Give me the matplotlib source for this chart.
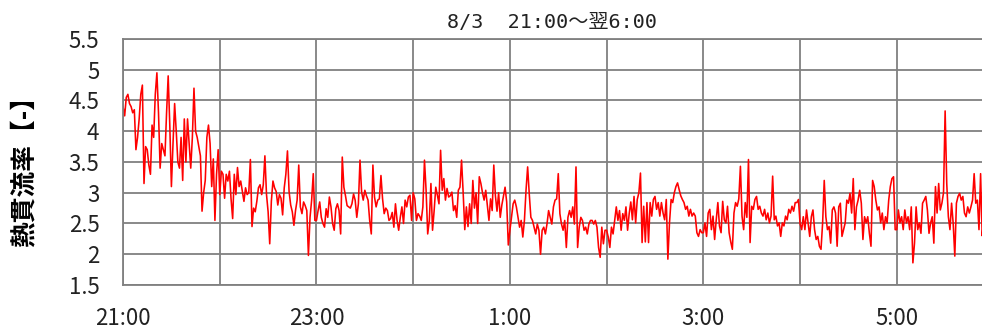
# 熱貫流率の時系列グラフ 8/3 21:00～翌6:00

import numpy as np
import matplotlib
matplotlib.use('Agg')
import matplotlib.pyplot as plt

plt.rcParams['font.family'] = ['Noto Sans CJK JP', 'DejaVu Sans']

# 1分ごとの値（各時間 60 点）
hour21 = [4.4, 4.25, 4.55, 4.6, 4.45, 4.4, 4.3, 4.35, 3.7, 3.9,
          4.2, 4.6, 4.75, 3.15, 3.75, 3.7, 3.45, 3.3, 4.1, 3.9,
          4.6, 4.95, 4.3, 3.4, 3.8, 3.7, 3.6, 4.3, 4.9, 4.1,
          3.1, 3.8, 4.45, 4.0, 3.5, 3.4, 3.9, 3.2, 4.2, 3.5,
          4.2, 3.8, 3.4, 3.9, 4.7, 4.0, 3.9, 3.75, 3.6, 2.7,
          3.0, 3.2, 3.9, 4.1, 3.8, 3.1, 3.55, 2.55, 3.3, 3.7]
hour22 = [2.97, 3.35, 3.3, 2.91, 3.3, 3.19, 3.35, 2.9, 2.58, 3.3,
          2.97, 3.41, 3.1, 3.19, 3.02, 2.86, 3.08, 2.97, 3.0, 3.54,
          2.45, 2.75, 2.69, 2.86, 3.08, 3.13, 2.97, 3.13, 3.6, 2.97,
          2.69, 2.17, 2.86, 3.19, 3.08, 3.02, 2.8, 2.97, 2.91, 2.64,
          3.08, 3.3, 3.68, 3.02, 2.8, 2.69, 2.47, 2.71, 2.88, 3.45,
          2.77, 2.66, 2.85, 2.79, 2.71, 1.98, 2.6, 2.88, 3.31, 2.55]
hour23 = [2.55, 2.71, 2.85, 2.6, 2.5, 2.44, 2.74, 2.6, 2.93, 2.77,
          2.5, 2.39, 2.74, 2.82, 2.71, 2.33, 3.58, 3.09, 2.95, 2.79,
          2.77, 2.75, 2.82, 2.98, 2.88, 2.6, 2.82, 3.53, 3.01, 2.88,
          3.04, 2.95, 2.88, 2.55, 2.33, 3.45, 2.93, 2.77, 2.88, 2.9,
          3.28, 2.9, 2.66, 2.75, 2.71, 2.55, 2.58, 2.68, 2.44, 2.82,
          2.55, 2.39, 2.6, 2.77, 2.5, 2.88, 2.77, 2.93, 2.96, 2.55]
hour0 = [3.0, 2.9, 2.55, 2.66, 2.62, 2.55, 2.77, 3.53, 3.04, 2.33,
         2.55, 3.15, 2.39, 2.71, 3.09, 2.96, 2.82, 3.69, 3.04, 3.23,
         2.88, 3.07, 2.93, 2.95, 3.01, 2.71, 2.79, 2.6, 3.04, 3.09,
         3.53, 3.0, 2.4, 2.77, 2.45, 2.82, 2.5, 3.2, 2.75, 3.0,
         2.5, 3.26, 3.15, 3.0, 2.88, 3.04, 2.8, 2.55, 2.9, 2.71,
         3.45, 2.95, 2.7, 3.0, 2.6, 2.8, 2.95, 3.09, 2.85, 2.15]
hour1 = [2.39, 2.6, 2.82, 2.88, 2.77, 2.6, 2.44, 2.55, 2.28, 2.55,
         3.04, 3.42, 2.98, 2.6, 2.55, 2.44, 2.33, 2.49, 2.39, 2.0,
         2.39, 2.44, 2.33, 2.49, 2.71, 2.6, 2.49, 2.77, 2.88, 2.9,
         3.31, 2.66, 2.49, 2.39, 2.55, 2.11, 2.6, 2.71, 2.6, 2.77,
         2.49, 3.42, 2.11, 2.44, 2.6, 2.55, 2.39, 2.44, 2.33, 2.49,
         2.55, 2.55, 2.49, 2.55, 2.44, 2.11, 1.95, 2.44, 2.17, 2.39]
hour2 = [2.39, 2.28, 2.11, 2.44, 2.33, 2.55, 2.77, 2.55, 2.71, 2.39,
         2.66, 2.55, 2.77, 2.39, 2.66, 2.85, 2.56, 2.94, 2.51, 2.89,
         3.0, 3.32, 2.19, 2.78, 2.2, 2.84, 2.19, 2.84, 2.62, 2.89,
         2.94, 2.73, 2.84, 2.62, 2.84, 2.67, 2.56, 2.89, 1.92, 2.51,
         2.89, 2.84, 3.0, 3.1, 3.16, 3.05, 2.95, 2.89, 2.84, 2.73,
         2.78, 2.62, 2.73, 2.62, 2.67, 2.62, 2.35, 2.29, 2.4, 2.35]
hour3 = [2.35, 2.51, 2.29, 2.67, 2.73, 2.4, 2.62, 2.24, 2.56, 2.84,
         2.46, 2.35, 2.86, 2.56, 2.51, 2.78, 2.35, 2.2, 2.08, 2.67,
         2.84, 2.78, 2.9, 3.43, 2.62, 2.4, 2.84, 2.6, 3.54, 2.19,
         2.78, 2.73, 2.89, 2.94, 2.73, 2.78, 2.67, 2.62, 2.73, 2.56,
         2.67, 2.51, 2.62, 3.27, 2.56, 2.62, 2.46, 2.51, 2.29, 2.51,
         2.46, 2.62, 2.56, 2.73, 2.67, 2.78, 2.7, 2.84, 2.84, 2.89]
hour4 = [2.5, 2.4, 2.61, 2.4, 2.72, 2.51, 2.29, 2.61, 2.72, 2.4,
         2.24, 2.29, 2.13, 2.08, 2.51, 3.2, 2.61, 2.4, 2.45, 2.18,
         2.72, 2.77, 2.67, 2.13, 2.77, 2.83, 2.29, 2.4, 2.51, 2.88,
         2.83, 2.99, 2.67, 3.23, 2.4, 2.77, 2.88, 3.04, 2.83, 2.24,
         2.61, 2.51, 2.61, 2.34, 2.13, 3.2, 3.1, 2.88, 2.72, 2.77,
         2.51, 2.67, 2.4, 2.61, 2.51, 2.88, 3.1, 3.23, 3.26, 2.4]
hour5 = [2.4, 2.72, 2.51, 2.61, 2.4, 2.72, 2.51, 2.61, 2.4, 2.77,
         1.86, 2.18, 2.77, 2.4, 2.51, 2.34, 2.83, 2.88, 2.94, 2.72,
         2.34, 2.51, 2.61, 2.18, 3.1, 2.67, 3.15, 2.72, 2.83, 3.0,
         4.33, 3.15, 2.61, 2.4, 2.83, 2.5, 1.97, 2.83, 2.94, 2.99,
         2.88, 2.94, 2.67, 2.61, 2.77, 2.67, 2.77, 2.88, 3.31, 2.83,
         2.88, 2.4, 3.31, 2.3, 2.6]

hours = [hour21, hour22, hour23, hour0, hour1, hour2, hour3, hour4, hour5]
tick_labels = ['21:00', '', '23:00', '', '1:00', '', '3:00', '', '5:00', '']
y_ticks = [1.5, 2, 2.5, 3, 3.5, 4, 4.5, 5, 5.5]

# 21:00 からの経過時間 [h]
t = np.concatenate([i + np.arange(len(h)) / 60 for i, h in enumerate(hours)])
u = np.concatenate(hours)

fig = plt.figure(figsize=(9.82, 3.32), dpi=100)
ax = fig.add_axes([0.1253, 0.1416, 0.8864, 0.741])   # 右端は画像の外まで

ax.plot(t, u, color='#ff0000', linewidth=1.15)

ax.set_xlim(0, 9)
ax.set_ylim(1.5, 5.5)
ax.set_xticks(range(10))
ax.set_xticklabels(tick_labels)
ax.set_yticks(y_ticks)
ax.set_yticklabels(['%g' % v for v in y_ticks])
ax.tick_params(length=0, labelsize=16, colors='#222222')
ax.tick_params(axis='y', pad=17)
ax.tick_params(axis='x', pad=16)

ax.grid(True, color='#808080', linewidth=1.3)
for s in ax.spines.values():
    s.set_color('#808080')
    s.set_linewidth(1.3)

fig.text(552 / 982, 1 - 22 / 332, '8/3  21:00～翌6:00', ha='center', va='center',
         fontsize=14.5, family=['DejaVu Sans Mono', 'Noto Sans CJK JP'], color='#222222')
fig.text(24 / 982, 1 - 165 / 332, '熱貫流率【-】', rotation=90, ha='center', va='center',
         fontsize=18.5, fontweight='bold')

plt.savefig('out.png', dpi=100)
